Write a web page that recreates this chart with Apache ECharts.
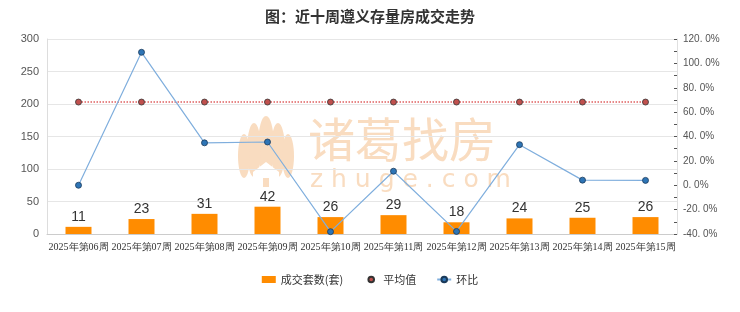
<!DOCTYPE html>
<html><head><meta charset="utf-8">
<script src="https://cdn.jsdelivr.net/npm/echarts@6/dist/echarts.min.js"></script>
<style>html,body{margin:0;padding:0;background:#fff}#c{width:740px;height:312px}</style>
</head><body><div id="c"></div>
<script>
const categories = ['2025年第06周','2025年第07周','2025年第08周','2025年第09周','2025年第10周','2025年第11周','2025年第12周','2025年第13周','2025年第14周','2025年第15周'];
const dealCounts = [11,23,31,42,26,29,18,24,25,26];
const averageLine = [203,203,203,203,203,203,203,203,203,203];
const momRatio = [0,109.1,34.8,35.5,-38.1,11.5,-37.9,33.3,4.2,4.0];
const leftTicks = {min:0,max:300,interval:50};
const rightTicks = {min:-40,max:120,interval:20};

const wm = '#F9DCC0';
const chart = echarts.init(document.getElementById('c'));
chart.setOption({
  animation:false,
  title:{text:'图：近十周遵义存量房成交走势',left:'center',top:4,textStyle:{fontSize:15,fontWeight:'bold',color:'#333',fontFamily:'Noto Sans CJK SC'}},
  graphic:[
    {type:'group',left:238,top:116,z:0,children:[
      {type:'ellipse',shape:{cx:31,cy:30,rx:8,ry:30},style:{fill:wm}},
      {type:'ellipse',shape:{cx:19,cy:34,rx:7,ry:27},style:{fill:wm}},
      {type:'ellipse',shape:{cx:43,cy:34,rx:7,ry:27},style:{fill:wm}},
      {type:'ellipse',shape:{cx:9,cy:40,rx:6,ry:22},style:{fill:wm}},
      {type:'ellipse',shape:{cx:53,cy:40,rx:6,ry:22},style:{fill:wm}},
      {type:'polygon',shape:{points:[[18,56],[31,46],[44,56],[44,64],[18,64]]},style:{fill:'#fff'}},
      {type:'rect',shape:{x:28,y:62,width:6,height:9},style:{fill:wm}}
    ]},
    {type:'text',left:308,top:116,z:0,style:{text:'诸葛找房',fill:wm,font:'normal 47px "Noto Sans CJK SC"'}},
    {type:'text',left:310,top:168,z:0,style:{text:'z h u g e . c o m',fill:wm,font:'normal 25px "DejaVu Sans"'}}
  ],
  legend:{bottom:22,itemGap:20,itemWidth:14,itemHeight:7,textStyle:{fontSize:11,color:'#333',fontFamily:'Noto Sans CJK SC'},
    data:[{name:'成交套数(套)',icon:'rect',itemStyle:{color:'#FF8C00'}},{name:'平均值',lineStyle:{opacity:0}},{name:'环比'}]},
  grid:{left:47,right:63,top:39,bottom:78},
  xAxis:{type:'category',data:categories,axisTick:{show:false},axisLine:{lineStyle:{color:'#ccc'}},
    axisLabel:{fontSize:10,color:'#333',interval:0,fontFamily:'Liberation Serif',margin:8}},
  yAxis:[
    {type:'value',min:leftTicks.min,max:leftTicks.max,interval:leftTicks.interval,
     axisLine:{show:true,lineStyle:{color:'#ddd'}},axisTick:{show:false},
     axisLabel:{fontSize:11,color:'#555'},splitLine:{lineStyle:{color:'#e6e6e6'}}},
    {type:'value',min:rightTicks.min,max:rightTicks.max,interval:rightTicks.interval,
     axisLine:{show:true,lineStyle:{color:'#e0e0e0'}},axisTick:{show:true,inside:true,length:3,lineStyle:{color:'#555'}},
     minorTick:{show:true,splitNumber:2,length:3,lineStyle:{color:'#555'}},
     splitLine:{show:false},
     axisLabel:{fontSize:10,color:'#555',margin:6,fontFamily:'Liberation Sans',formatter:v=>v.toFixed(1).replace('.','. ')+'%'}}
  ],
  series:[
    {name:'成交套数(套)',type:'bar',data:dealCounts,barWidth:26,itemStyle:{color:'#FF8C00'},z:3,
     label:{show:true,position:'top',fontSize:14,color:'#333',distance:3}},
    {name:'平均值',type:'line',data:averageLine,yAxisIndex:0,symbol:'circle',symbolSize:6,z:4,
     itemStyle:{color:'#C0504D',borderColor:'#333',borderWidth:0.8},lineStyle:{color:'#E06060',type:'dotted',width:1.5}},
    {name:'环比',type:'line',data:momRatio,yAxisIndex:1,symbol:'circle',symbolSize:6,z:5,
     itemStyle:{color:'#2E75B6',borderColor:'#1a3a5a',borderWidth:0.8},lineStyle:{color:'#7FAEDD',width:1.2}}
  ]
});
</script></body></html>
